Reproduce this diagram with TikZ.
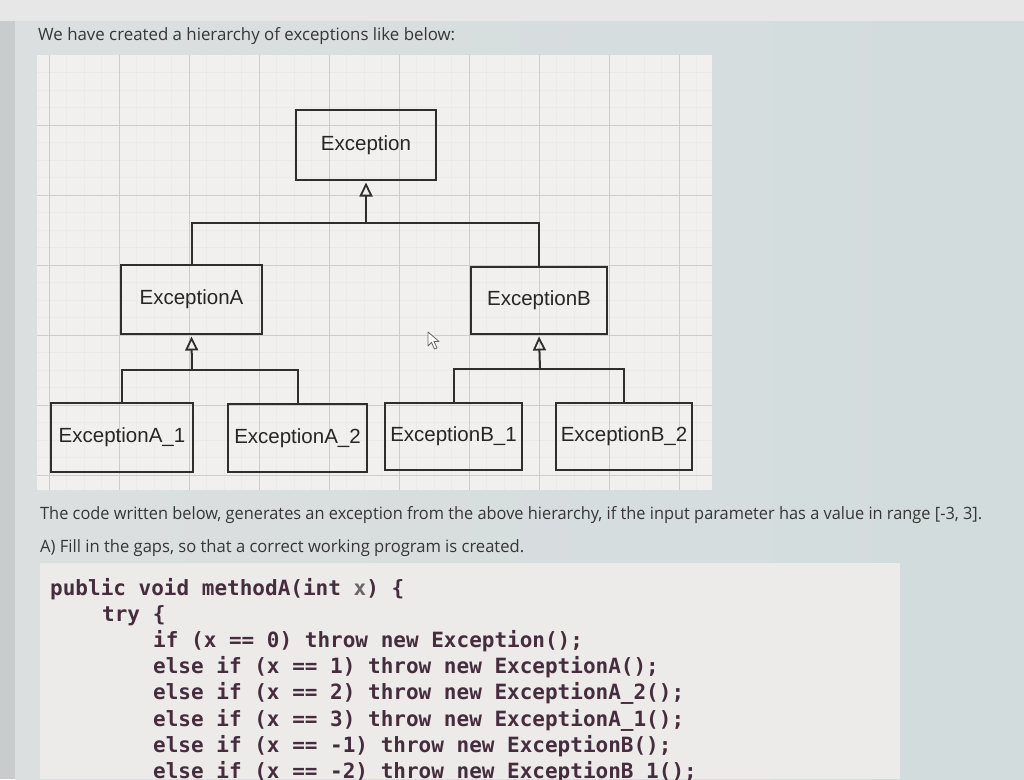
\documentclass[tikz,border=0pt]{standalone}
\usepackage{fontspec}
\usetikzlibrary{arrows.meta}
\newfontfamily\uifont{Open Sans}
\newfontfamily\lblfont{Liberation Sans}
\newfontfamily\codefont{DejaVu Sans Mono}
\definecolor{topband}{HTML}{E8E7E7}
\definecolor{leftstrip}{HTML}{C9CCCC}
\definecolor{panelL}{HTML}{DCDFDF}
\definecolor{panelR}{HTML}{D2DCDD}
\definecolor{diagbg}{HTML}{F1F0EF}
\definecolor{gridmajor}{HTML}{CDCDCD}
\definecolor{gridminor}{HTML}{EBEAE9}
\definecolor{codebg}{HTML}{ECEBEA}
\definecolor{boxline}{HTML}{2E2E2E}
\definecolor{lbltext}{HTML}{262626}
\definecolor{prosetext}{HTML}{363636}
\definecolor{codetext}{HTML}{452D3D}
\definecolor{codelight}{HTML}{6E646B}
\begin{document}
\begin{tikzpicture}[x=1pt,y=-1pt,
  cls/.style={draw=boxline, line width=2pt, inner sep=0pt, text=lbltext,
    font=\lblfont\fontsize{20.5}{24}\selectfont},
  gen/.style={draw=boxline, line width=2pt,
    -{Triangle[open,length=14pt,width=13pt,line width=1.8pt]}},
  link/.style={draw=boxline, line width=2pt},
  prose/.style={anchor=base west, inner sep=0pt, text=prosetext,
    font=\uifont\fontsize{17}{20}\selectfont},
  code/.style={anchor=base west, inner sep=0pt, text=codetext,
    font=\codefont\bfseries\fontsize{21}{25}\selectfont},
  gmajor/.style={draw=gridmajor, line width=0.9pt},
  gminor/.style={draw=gridminor, line width=0.6pt}]
\useasboundingbox (0,0) rectangle (1024,779);
% backgrounds
\fill[topband] (0,0) rectangle (1024,779);
\shade[left color=panelL, right color=panelR] (15,21) rectangle (1024,779);
\fill[leftstrip] (0,21) rectangle (15,779);
\fill[diagbg] (37,55) rectangle (712,490);
% grid
\foreach \i in {0,...,37} {
  \pgfmathsetmacro\gx{49+17.5*\i}
  \draw[gminor] (\gx,55) -- (\gx,490);
}
\foreach \i in {-3,...,20} {
  \pgfmathsetmacro\gy{125+17.5*\i}
  \draw[gminor] (37,\gy) -- (712,\gy);
}
\foreach \gx in {49,119,...,679} \draw[gmajor] (\gx,55) -- (\gx,490);
\foreach \gy in {125,195,...,475} \draw[gmajor] (37,\gy) -- (712,\gy);
\fill[codebg] (40,563) rectangle (900,779);
% heading
\node[prose] (head) at (38,40) {\resizebox{417pt}{\height}{We have created a hierarchy of exceptions like below:}};
% classes
\node[cls, minimum width=140pt, minimum height=70pt] (exc) at (366,145) {Exception};
\node[cls, minimum width=141pt, minimum height=69pt] (ea) at (191.5,299.5) {ExceptionA};
\node[cls, minimum width=136pt, minimum height=67pt] (eb) at (539,300.5) {ExceptionB};
\node[cls, minimum width=142pt, minimum height=69pt] (ea1) at (122,437.5) {ExceptionA\_1};
\node[cls, minimum width=139pt, minimum height=68pt] (ea2) at (297.5,438) {ExceptionA\_2};
\node[cls, minimum width=137pt, minimum height=67pt] (eb1) at (453.5,436.5) {ExceptionB\_1};
\node[cls, minimum width=136pt, minimum height=67pt] (eb2) at (624,436.5) {ExceptionB\_2};
% junctions
\coordinate (j0) at (366,223);
\coordinate (ja) at (192,370);
\coordinate (jb) at (540,369);
\draw[gen] (j0) -- ([yshift=-1.5pt]exc.south);
\draw[link] (ea.north) |- (j0) -| (eb.north);
\draw[gen] (ja) -- ([yshift=-1.5pt]ea.south);
\draw[link] (ea1.north) |- (ja) -| (ea2.north);
\draw[gen] (jb) -- ([yshift=-1.5pt]eb.south);
\draw[link] (eb1.north) |- (jb) -| (eb2.north);
% mouse cursor
\draw[draw=black!60, fill=white, line width=0.8pt, line join=round]
  (428,332) -- (428,346) -- (431.5,342.5) -- (434.5,349) -- (437,348) -- (434,341.5) -- (439,341.5) -- cycle;
% prose
\node[prose] (p1) at (40,519) {\resizebox{942pt}{\height}{The code written below, generates an exception from the above hierarchy, if the input parameter has a value in range [-3, 3].}};
\node[prose] (p2) at (40,552) {\resizebox{484pt}{\height}{A) Fill in the gaps, so that a correct working program is created.}};
% code
\node[code] (c1) at (50,595) {public void methodA(int \textcolor{codelight}{x}) \{};
\node[code] (c2) at (102,621.2) {try \{};
\node[code] (c3) at (153,647.4) {if (x == 0) throw new Exception();};
\node[code] (c4) at (153,673.6) {else if (x == 1) throw new ExceptionA();};
\node[code] (c5) at (153,699.8) {else if (x == 2) throw new ExceptionA\_2();};
\node[code] (c6) at (153,726) {else if (x == 3) throw new ExceptionA\_1();};
\node[code] (c7) at (153,752.2) {else if (x == -1) throw new ExceptionB();};
\node[code] (c8) at (153,778.4) {else if (x == -2) throw new ExceptionB\_1();};
\end{tikzpicture}
\end{document}
